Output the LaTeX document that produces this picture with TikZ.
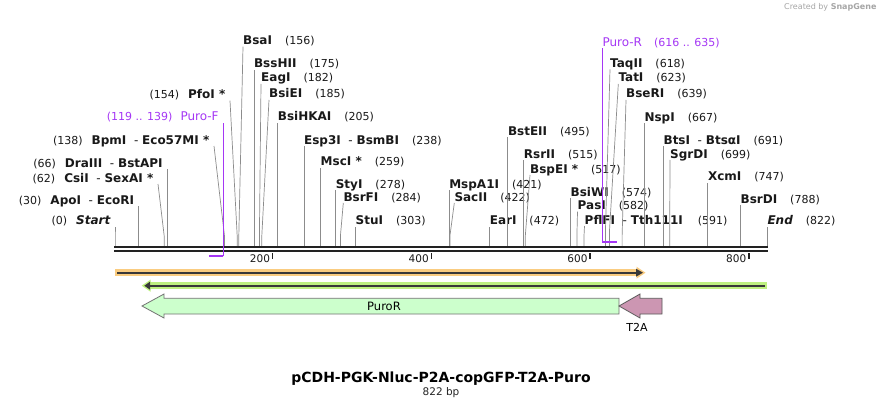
\documentclass[tikz,border=0pt]{standalone}
\usepackage{fontspec}
\setmainfont{DejaVu Sans}
\usepackage{tikz}
\usetikzlibrary{positioning}

\definecolor{sitegray}{RGB}{140,140,140}
\definecolor{primviolet}{RGB}{165,55,245}
\definecolor{bbdark}{RGB}{34,34,34}
\definecolor{orangeband}{RGB}{250,204,128}
\definecolor{greenband}{RGB}{190,240,128}
\definecolor{purofill}{RGB}{204,255,204}
\definecolor{ttafill}{RGB}{204,150,178}

\newcommand{\enzname}[1]{{\bfseries #1}}
\newcommand{\enzpos}[1]{{\fontsize{11}{13}\selectfont(#1)}}

\begin{document}
\begin{tikzpicture}[x=1pt,y=-1pt]
    \tikzset{siteline/.style = {draw=sitegray, line width=0.7pt},
      rlab/.style = {anchor=base west, inner sep=0pt, text=black!90,
        font=\fontsize{12}{14}\selectfont},
      llab/.style = {anchor=base east, inner xsep=4.5pt, inner ysep=0pt,
        text=black!90, font=\fontsize{12}{14}\selectfont},
      primline/.style = {draw=primviolet, line width=1pt},
      bbline/.style = {draw=bbdark, line width=2pt},
      ticklab/.style = {anchor=base east, inner sep=0pt, text=black!90,
        font=\fontsize{10.5}{12}\selectfont}}
    \fill[white] (0,0) rectangle (882,409);
    \useasboundingbox (0,0) rectangle (882,409);
    % cut sites on the backbone
    \coordinate (s0) at (115,246);
    \coordinate (s30) at (138.8,246);
    \coordinate (s62) at (164.2,246);
    \coordinate (s66) at (167.4,246);
    \coordinate (s138) at (224.5,246);
    \coordinate (s154) at (237.2,246);
    \coordinate (s156) at (238.8,246);
    \coordinate (s175) at (253.9,246);
    \coordinate (s182) at (259.4,246);
    \coordinate (s185) at (261.8,246);
    \coordinate (s205) at (277.7,246);
    \coordinate (s238) at (303.9,246);
    \coordinate (s259) at (320.5,246);
    \coordinate (s278) at (335.6,246);
    \coordinate (s284) at (340.4,246);
    \coordinate (s303) at (355.5,246);
    \coordinate (s421) at (449.1,246);
    \coordinate (s422) at (449.9,246);
    \coordinate (s472) at (489.6,246);
    \coordinate (s495) at (507.8,246);
    \coordinate (s515) at (523.7,246);
    \coordinate (s517) at (525.3,246);
    \coordinate (s574) at (570.5,246);
    \coordinate (s582) at (576.9,246);
    \coordinate (s591) at (584.0,246);
    \coordinate (s618) at (605.4,246);
    \coordinate (s623) at (609.4,246);
    \coordinate (s639) at (622.1,246);
    \coordinate (s667) at (644.3,246);
    \coordinate (s691) at (663.4,246);
    \coordinate (s699) at (669.7,246);
    \coordinate (s747) at (707.8,246);
    \coordinate (s788) at (740.4,246);
    \coordinate (s822) at (767.3,246);
    % labels left of their site
    \node[llab] (Start) at (115,224.7) {\enzpos{0}\hspace{9pt}{\bfseries\itshape Start}};
    \node[llab] (ApoI) at (138.8,204) {\enzpos{30}\hspace{9pt}\enzname{ApoI}~~-~\enzname{EcoRI}};
    \node[llab] (CsiI) at (158,182) {\enzpos{62}\hspace{9pt}\enzname{CsiI}~~-~\enzname{SexAI *}};
    \node[llab] (DraIII) at (167.4,167) {\enzpos{66}\hspace{9pt}\enzname{DraIII}~~-~\enzname{BstAPI}};
    \node[llab] (BpmI) at (214,144) {\enzpos{138}\hspace{9pt}\enzname{BpmI}~~-~\enzname{Eco57MI *}};
    \node[llab, text=primviolet] (PuroF) at (223.3,121) {{\fontsize{11}{13}\selectfont(119 .. 139)}\hspace{8pt}Puro-F};
    \node[llab] (PfoI) at (230,98.7) {\enzpos{154}\hspace{9pt}\enzname{PfoI *}};
    % labels right of their site
    \node[rlab] (BsaI) at (243,44.7) {\enzname{BsaI}\hspace{13pt}\enzpos{156}};
    \node[rlab] (BssHII) at (253.9,68) {\enzname{BssHII}\hspace{13pt}\enzpos{175}};
    \node[rlab] (EagI) at (261,82) {\enzname{EagI}\hspace{13pt}\enzpos{182}};
    \node[rlab] (BsiEI) at (269,98) {\enzname{BsiEI}\hspace{13pt}\enzpos{185}};
    \node[rlab] (BsiHKAI) at (277.7,121) {\enzname{BsiHKAI}\hspace{13pt}\enzpos{205}};
    \node[rlab] (Esp3I) at (303.9,144) {\enzname{Esp3I}~~-~\enzname{BsmBI}\hspace{13pt}\enzpos{238}};
    \node[rlab] (MscI) at (320.5,165.7) {\enzname{MscI *}\hspace{13pt}\enzpos{259}};
    \node[rlab] (StyI) at (335.6,188) {\enzname{StyI}\hspace{13pt}\enzpos{278}};
    \node[rlab] (BsrFI) at (343.3,201) {\enzname{BsrFI}\hspace{13pt}\enzpos{284}};
    \node[rlab] (StuI) at (355.5,224.7) {\enzname{StuI}\hspace{13pt}\enzpos{303}};
    \node[rlab] (MspA1I) at (449.1,188) {\enzname{MspA1I}\hspace{13pt}\enzpos{421}};
    \node[rlab] (SacII) at (454.3,201) {\enzname{SacII}\hspace{13pt}\enzpos{422}};
    \node[rlab] (EarI) at (489.6,224.7) {\enzname{EarI}\hspace{13pt}\enzpos{472}};
    \node[rlab] (BstEII) at (507.8,135.3) {\enzname{BstEII}\hspace{13pt}\enzpos{495}};
    \node[rlab] (RsrII) at (523.7,158) {\enzname{RsrII}\hspace{13pt}\enzpos{515}};
    \node[rlab] (BspEI) at (530,173) {\enzname{BspEI *}\hspace{13pt}\enzpos{517}};
    \node[rlab] (BsiWI) at (570.5,196.3) {\enzname{BsiWI}\hspace{13pt}\enzpos{574}};
    \node[rlab] (PasI) at (577.5,209.7) {\enzname{PasI}\hspace{13pt}\enzpos{582}};
    \node[rlab] (PflFI) at (584.5,224) {\enzname{PflFI}~~-~\enzname{Tth111I}\hspace{15pt}\enzpos{591}};
    \node[rlab, text=primviolet] (PuroRlab) at (602.3,46.3) {Puro-R\hspace{12pt}{\fontsize{11}{13}\selectfont(616 .. 635)}};
    \node[rlab] (TaqII) at (610,67.3) {\enzname{TaqII}\hspace{13pt}\enzpos{618}};
    \node[rlab] (TatI) at (618.3,82) {\enzname{TatI}\hspace{13pt}\enzpos{623}};
    \node[rlab] (BseRI) at (626,98) {\enzname{BseRI}\hspace{13pt}\enzpos{639}};
    \node[rlab] (NspI) at (644.3,121.3) {\enzname{NspI}\hspace{13pt}\enzpos{667}};
    \node[rlab] (BtsI) at (663.4,144) {\enzname{BtsI}~~-~\enzname{BtsαI}\hspace{13pt}\enzpos{691}};
    \node[rlab] (SgrDI) at (670,158) {\enzname{SgrDI}\hspace{13pt}\enzpos{699}};
    \node[rlab] (XcmI) at (707.8,180.7) {\enzname{XcmI}\hspace{13pt}\enzpos{747}};
    \node[rlab] (BsrDI) at (740.4,203) {\enzname{BsrDI}\hspace{13pt}\enzpos{788}};
    \node[rlab] (End) at (767.3,224.7) {{\bfseries\itshape End}\hspace{13pt}\enzpos{822}};
    % site lines
    \draw[siteline] (s0) -- ++(0,-10) -- ([yshift=-2pt]Start.base east);
    \draw[siteline] (s30) -- ++(0,-10) -- ([yshift=-2pt]ApoI.base east);
    \draw[siteline] (s62) -- ++(0,-10) -- ([yshift=-2pt]CsiI.base east);
    \draw[siteline] (s66) -- ++(0,-10) -- ([yshift=-2pt]DraIII.base east);
    \draw[siteline] (s138) -- ++(0,-10) -- ([yshift=-2pt]BpmI.base east);
    \draw[siteline] (s154) -- ++(0,-10) -- ([yshift=-2pt]PfoI.base east);
    \draw[siteline] (s156) -- ++(0,-10) -- ([yshift=-2pt]BsaI.base west);
    \draw[siteline] (s175) -- ++(0,-10) -- ([yshift=-2pt]BssHII.base west);
    \draw[siteline] (s182) -- ++(0,-10) -- ([yshift=-2pt]EagI.base west);
    \draw[siteline] (s185) -- ++(0,-10) -- ([yshift=-2pt]BsiEI.base west);
    \draw[siteline] (s205) -- ++(0,-10) -- ([yshift=-2pt]BsiHKAI.base west);
    \draw[siteline] (s238) -- ++(0,-10) -- ([yshift=-2pt]Esp3I.base west);
    \draw[siteline] (s259) -- ++(0,-10) -- ([yshift=-2pt]MscI.base west);
    \draw[siteline] (s278) -- ++(0,-10) -- ([yshift=-2pt]StyI.base west);
    \draw[siteline] (s284) -- ++(0,-10) -- ([yshift=-2pt]BsrFI.base west);
    \draw[siteline] (s303) -- ++(0,-10) -- ([yshift=-2pt]StuI.base west);
    \draw[siteline] (s421) -- ++(0,-10) -- ([yshift=-2pt]MspA1I.base west);
    \draw[siteline] (s422) -- ++(0,-10) -- ([yshift=-2pt]SacII.base west);
    \draw[siteline] (s472) -- ++(0,-10) -- ([yshift=-2pt]EarI.base west);
    \draw[siteline] (s495) -- ++(0,-10) -- ([yshift=-2pt]BstEII.base west);
    \draw[siteline] (s515) -- ++(0,-10) -- ([yshift=-2pt]RsrII.base west);
    \draw[siteline] (s517) -- ++(0,-10) -- ([yshift=-2pt]BspEI.base west);
    \draw[siteline] (s574) -- ++(0,-10) -- ([yshift=-2pt]BsiWI.base west);
    \draw[siteline] (s582) -- ++(0,-10) -- ([yshift=-2pt]PasI.base west);
    \draw[siteline] (s591) -- ++(0,-10) -- ([yshift=-2pt]PflFI.base west);
    \draw[siteline] (s618) -- ++(0,-14) -- ([yshift=-2pt]TaqII.base west);
    \draw[siteline] (s623) -- ++(0,-14) -- ([yshift=-2pt]TatI.base west);
    \draw[siteline] (s639) -- ++(0,-10) -- ([yshift=-2pt]BseRI.base west);
    \draw[siteline] (s667) -- ++(0,-10) -- ([yshift=-2pt]NspI.base west);
    \draw[siteline] (s691) -- ++(0,-10) -- ([yshift=-2pt]BtsI.base west);
    \draw[siteline] (s699) -- ++(0,-10) -- ([yshift=-2pt]SgrDI.base west);
    \draw[siteline] (s747) -- ++(0,-10) -- ([yshift=-2pt]XcmI.base west);
    \draw[siteline] (s788) -- ++(0,-10) -- ([yshift=-2pt]BsrDI.base west);
    \draw[siteline] (s822) -- ++(0,-10) -- ([yshift=-2pt]End.base west);
    % backbone and ruler
    \draw[bbline] (114,247) -- (768,247);
    \draw[bbline] (114,251) -- (768,251);
    \draw[bbdark, line width=1.5pt] (272.7,253) -- (272.7,259);
    \draw[bbdark, line width=1.5pt] (431.4,253) -- (431.4,259);
    \draw[bbdark, line width=1.5pt] (590.2,253) -- (590.2,259);
    \draw[bbdark, line width=1.5pt] (748.9,253) -- (748.9,259);
    \node[ticklab] (t200) at (270.2,262.7) {200};
    \node[ticklab] (t400) at (428.9,262.7) {400};
    \node[ticklab] (t600) at (587.7,262.7) {600};
    \node[ticklab] (t800) at (746.4,262.7) {800};
    % primers
    \coordinate (pF1) at (209.4,255.7);
    \coordinate (pF2) at (223.3,255.7);
    \draw[primline] ([yshift=-2pt]PuroF.base east) -- (pF2);
    \draw[primline, line width=1.6pt] (pF2) -- (pF1);
    \coordinate (pR1) at (602.3,241.7);
    \coordinate (pR2) at (617,241.7);
    \draw[primline] ([yshift=-2pt]PuroRlab.base west) -- (pR1);
    \draw[primline, line width=1.6pt] (pR1) -- (pR2);
    % features
    \fill[orangeband] (115,269.3) rectangle (637,276.1);
    \fill[orangeband] (636.5,266.7) -- (645.5,272.7) -- (636.5,278.7) -- cycle;
    \draw[bbdark!90, line width=1.8pt] (117,272.7) -- (637,272.7);
    \fill[bbdark!90] (636,268.7) -- (643,272.7) -- (636,276.7) -- cycle;
    \fill[greenband] (150,282.3) rectangle (767,289.1);
    \fill[greenband] (150.5,279.7) -- (141.7,285.7) -- (150.5,291.7) -- cycle;
    \draw[bbdark!90, line width=1.8pt] (149,285.7) -- (765,285.7);
    \fill[bbdark!90] (150,281.7) -- (144.3,285.7) -- (150,289.7) -- cycle;
    \draw[fill=purofill, draw=black!55, line width=0.8pt]
      (142,306) -- (164,294) -- (164,298.3) -- (619,298.3) -- (619,314)
      -- (164,314) -- (164,318) -- cycle;
    \draw[fill=ttafill, draw=black!65, line width=0.8pt]
      (619,306) -- (640,294) -- (640,298.3) -- (662,298.3) -- (662,314)
      -- (640,314) -- (640,318) -- cycle;
    \node[font=\fontsize{11.5}{13}\selectfont] (PuroR) at (384,306) {PuroR};
    \node[font=\fontsize{11}{13}\selectfont] (TTA) at (637,327) {T2A};
    % title
    \node[font=\fontsize{14}{16}\selectfont\bfseries] (title) at (441,379) {pCDH-PGK-Nluc-P2A-copGFP-T2A-Puro};
    \node[font=\fontsize{10.5}{12}\selectfont, text=black!85] (length) at (441,393) {822 bp};
    \node[anchor=east, font=\fontsize{8}{9}\selectfont, text=black!35] (credit) at (880,7.5) {Created by \textbf{SnapGene}};
  \end{tikzpicture}
\end{document}
